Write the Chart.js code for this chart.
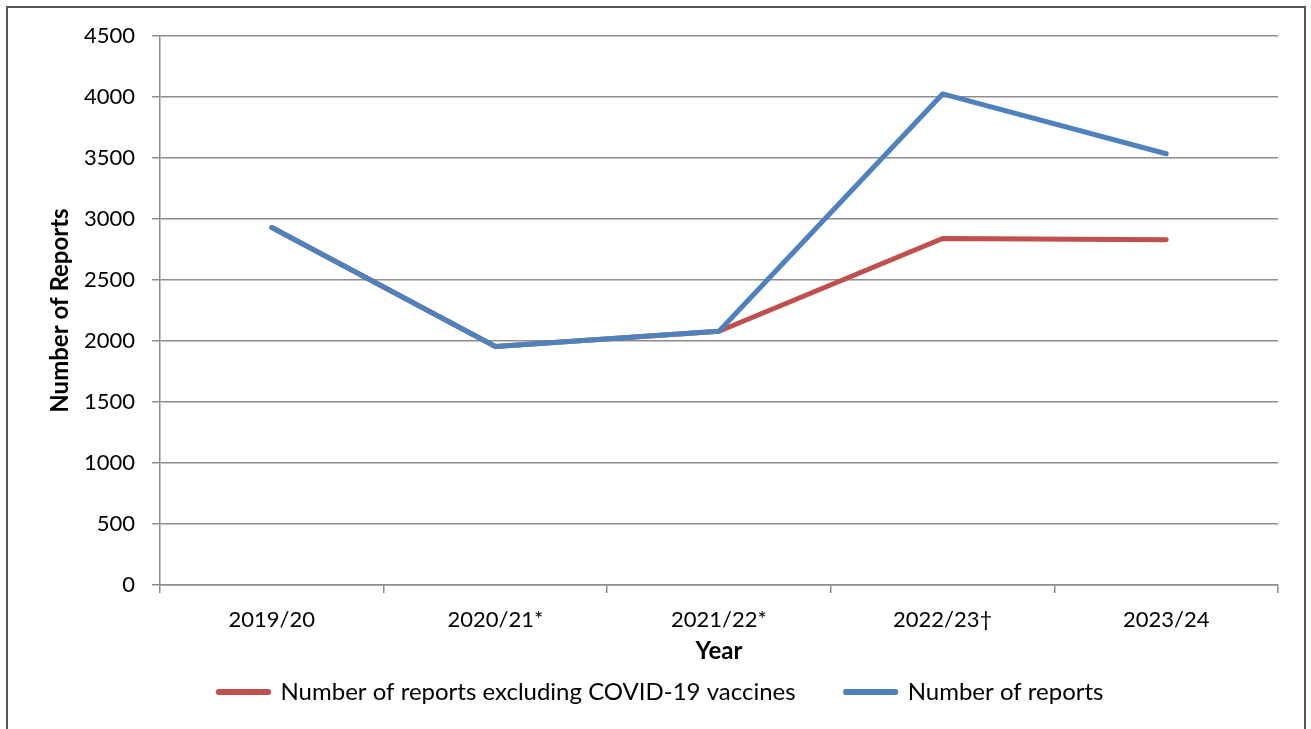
<!DOCTYPE html>
<html>
<head>
<meta charset="utf-8">
<script src="https://cdn.jsdelivr.net/npm/chart.js@4/dist/chart.umd.min.js"></script>
<style>
  html, body { margin: 0; padding: 0; background: #fff; }
  #wrap { width: 1311px; height: 729px; position: relative; }
</style>
</head>
<body>
<div id="wrap"><canvas id="c" width="1311" height="729"></canvas></div>
<script>
const categories = ['2019/20', '2020/21*', '2021/22*', '2022/23\u2020', '2023/24'];
const totalReports = [2930, 1955, 2080, 4025, 3535];
const excludingCovid = [2930, 1955, 2080, 2840, 2830];
const seriesNames = ['Number of reports', 'Number of reports excluding COVID-19 vaccines'];
const yTicks = { min: 0, max: 4500, step: 500 };

const FONT = 'Lato, "Open Sans", sans-serif';
const GRID = '#8c8c8c';

const borderPlugin = {
  id: 'frame',
  beforeDraw(chart) {
    const ctx = chart.ctx;
    ctx.save();
    ctx.fillStyle = '#fff';
    ctx.fillRect(0, 0, chart.width, chart.height);
    ctx.strokeStyle = '#555';
    ctx.lineWidth = 2;
    ctx.strokeRect(7, 7, 1298, 760);
    ctx.restore();
  }
};

new Chart(document.getElementById('c'), {
  type: 'line',
  data: {
    labels: categories,
    datasets: [
      {
        label: seriesNames[0],
        data: totalReports,
        borderColor: '#4F81BD',
        backgroundColor: '#4F81BD',
        borderWidth: 5,
        pointRadius: 0,
        tension: 0,
        borderCapStyle: 'round',
        borderJoinStyle: 'round'
      },
      {
        label: seriesNames[1],
        data: excludingCovid,
        borderColor: '#C0504D',
        backgroundColor: '#C0504D',
        borderWidth: 5,
        pointRadius: 0,
        tension: 0,
        borderCapStyle: 'round',
        borderJoinStyle: 'round'
      }
    ]
  },
  options: {
    responsive: false,
    animation: false,
    devicePixelRatio: 1,
    layout: { padding: { left: 44, right: 33, top: 36, bottom: 15 } },
    plugins: {
      tooltip: { enabled: false },
      legend: {
        position: 'bottom',
        reverse: true,
        labels: {
          boxWidth: 50,
          boxHeight: 1,
          padding: 50,
          color: '#000',
          font: { family: FONT, size: 24 }
        }
      }
    },
    scales: {
      x: {
        offset: true,
        afterFit(s) { s.height = 45; },
        grid: {
          offset: true,
          drawOnChartArea: false,
          drawTicks: true,
          tickLength: 8,
          color: GRID,
          lineWidth: 1.5
        },
        border: { color: GRID, width: 1.5 },
        ticks: {
          color: '#000',
          padding: 14,
          font: { family: FONT, size: 22 }
        },
        title: {
          display: true,
          text: 'Year',
          color: '#000',
          font: { family: FONT, size: 24, weight: 'bold' },
          padding: { top: 0, bottom: -36 }
        }
      },
      y: {
        min: yTicks.min,
        max: yTicks.max,
        afterFit(s) { s.width = 116; },
        grid: {
          color: GRID,
          lineWidth: 1.5,
          tickLength: 8
        },
        border: { color: GRID, width: 1.5 },
        ticks: {
          stepSize: yTicks.step,
          color: '#000',
          padding: 17,
          font: { family: FONT, size: 22 },
          callback: (v) => String(v)
        },
        title: {
          display: true,
          text: 'Number of Reports',
          color: '#000',
          font: { family: FONT, size: 24, weight: 'bold' },
          padding: { top: 2, bottom: 0 }
        }
      }
    }
  },
  plugins: [borderPlugin]
});
</script>
</body>
</html>
